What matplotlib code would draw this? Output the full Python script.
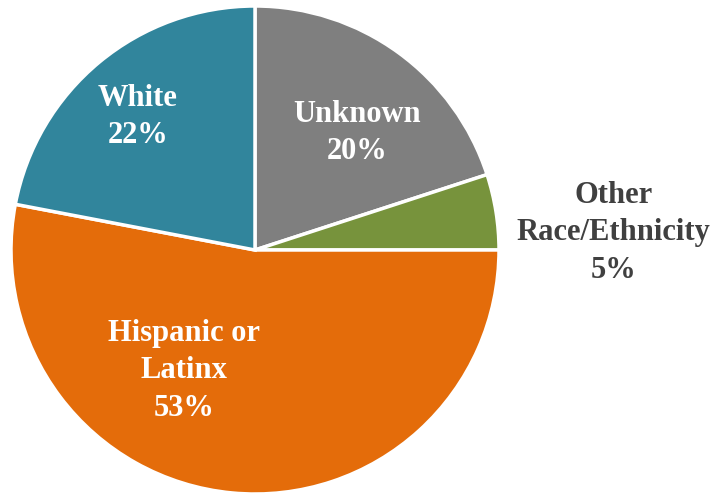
import matplotlib.pyplot as plt

# share of students by race/ethnicity
groups = ['Unknown', 'Other\nRace/Ethnicity', 'Hispanic or\nLatinx', 'White']
shares = [20, 5, 53, 22]
colors = ['#7f7f7f', '#77933c', '#e46c0a', '#31859c']
text_colors = ['white', '#404040', 'white', 'white']
# label centres in pie units (radius 1)
label_xy = [(0.42, 0.48), (1.47, 0.07), (-0.29, -0.495), (-0.48, 0.545)]

fig = plt.figure(figsize=(7.22, 4.95), dpi=100)
ax = fig.add_axes([11 / 722, 1 / 495, 488 / 722, 488 / 495])

ax.pie(shares, colors=colors, startangle=90, counterclock=False,
       wedgeprops=dict(edgecolor='white', linewidth=2.5))
ax.set_xlim(-1, 1)
ax.set_ylim(-1, 1)
ax.set_aspect('equal')

for name, val, (x, y), c in zip(groups, shares, label_xy, text_colors):
    ax.text(x, y, f'{name}\n{val}%', ha='center', va='center', color=c,
            fontsize=22, fontweight='bold', family='Liberation Serif',
            linespacing=1.38, clip_on=False)

fig.savefig('out.png', dpi=100)
